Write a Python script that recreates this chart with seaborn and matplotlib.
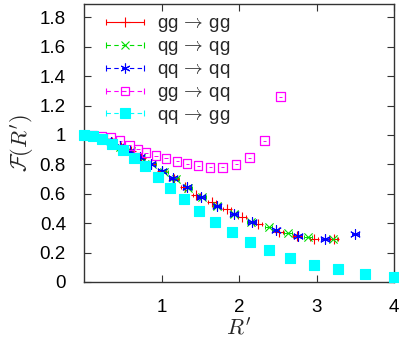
import numpy as np
import pandas as pd
import matplotlib
matplotlib.use("Agg")
import matplotlib.pyplot as plt
import seaborn as sns
from matplotlib.lines import Line2D
from matplotlib.collections import LineCollection
from matplotlib.container import ErrorbarContainer
from matplotlib.legend_handler import HandlerErrorbar
from matplotlib.ticker import FuncFormatter

# ---- data ----
labels = [r"gg$\,\rightarrow\,$gg", r"qg$\,\rightarrow\,$qg", r"qq$\,\rightarrow\,$qq",
          r"gg$\,\rightarrow\,$qq", r"qq$\,\rightarrow\,$gg"]

x_gg_gg = [0, 0.12, 0.24, 0.36, 0.48, 0.60, 0.73, 0.87, 1.01, 1.16, 1.30, 1.45,
           1.65, 1.84, 2.04, 2.24, 2.52, 2.75, 2.97, 3.22]
y_gg_gg = [1.0, 0.99, 0.975, 0.95, 0.92, 0.89, 0.845, 0.80, 0.755, 0.70, 0.648,
           0.592, 0.546, 0.495, 0.444, 0.393, 0.342, 0.316, 0.295, 0.289]

x_qg_qg = [0, 0.11, 0.23, 0.35, 0.47, 0.60, 0.74, 0.88, 1.03, 1.18, 1.34, 1.52,
           1.71, 1.93, 2.15, 2.38, 2.63, 2.89, 3.21]
y_qg_qg = [1.0, 0.99, 0.975, 0.95, 0.92, 0.89, 0.845, 0.80, 0.75, 0.70, 0.64,
           0.58, 0.52, 0.46, 0.41, 0.372, 0.333, 0.303, 0.29]

x_qq_qq = [0, 0.11, 0.23, 0.35, 0.46, 0.59, 0.72, 0.86, 1.0, 1.15, 1.33, 1.51,
           1.72, 1.93, 2.17, 2.47, 2.76, 3.11, 3.50]
y_qq_qq = [1.0, 0.99, 0.975, 0.95, 0.925, 0.893, 0.848, 0.803, 0.757, 0.705,
           0.646, 0.58, 0.519, 0.461, 0.41, 0.352, 0.311, 0.29, 0.327]

x_gg_qq = [0, 0.116, 0.232, 0.348, 0.465, 0.587, 0.697, 0.80, 0.929, 1.058,
           1.20, 1.329, 1.471, 1.626, 1.781, 1.961, 2.13, 2.323, 2.529]
y_gg_qq = [1.0, 1.0, 0.99, 0.98, 0.96, 0.93, 0.905, 0.88, 0.86, 0.84, 0.82,
           0.805, 0.79, 0.78, 0.78, 0.80, 0.845, 0.96, 1.26]

x_qq_gg = [0, 0.11, 0.23, 0.36, 0.50, 0.64, 0.79, 0.95, 1.11, 1.29, 1.48, 1.69,
           1.91, 2.14, 2.39, 2.66, 2.96, 3.27, 3.62, 4.0]
y_qq_gg = [1.0, 0.99, 0.97, 0.94, 0.895, 0.845, 0.786, 0.712, 0.637, 0.563,
           0.485, 0.41, 0.342, 0.274, 0.218, 0.165, 0.118, 0.086, 0.054, 0.036]

xerr_small = [0.05, 0.05, 0.05, 0.02, 0.02]

xs = [x_gg_gg, x_qg_qg, x_qq_qq, x_gg_qq, x_qq_gg]
ys = [y_gg_gg, y_qg_qg, y_qq_qq, y_gg_qq, y_qq_gg]

colors = ["#ff0000", "#00dd00", "#0000ff", "#ff00ff", "#00ffff"]
markers = ["+", "x", (6, 2, 0), "s", "s"]
msizes = [55, 35, 50, 40, 45]
filled = [True, True, True, False, True]
capsizes = [1.5, 1.5, 1.5, 0, 0]
lstyles = ["-", (0, (4, 3)), (0, (4, 3)), (0, (4, 3)), (0, (4, 3))]

# ---- style ----
sns.set_style("ticks")
plt.rcParams["font.family"] = ["Liberation Sans", "DejaVu Sans"]
plt.rcParams["mathtext.fontset"] = "cm"

fig = plt.figure(figsize=(3.99, 3.40), dpi=100)
ax = fig.add_axes([0.2105, 0.1706, 0.988 - 0.2105, 0.988 - 0.1706])

frames = []
for lab, x, y in zip(labels, xs, ys):
    frames.append(pd.DataFrame({"x": x, "y": y, "series": lab}))
df = pd.concat(frames, ignore_index=True)

handles = []
for i, lab in enumerate(labels):
    sub = df[df["series"] == lab]
    ax.errorbar(sub["x"], sub["y"], xerr=xerr_small[i], fmt="none",
                ecolor=colors[i], elinewidth=0.7, capsize=capsizes[i],
                capthick=0.7, zorder=2)
    if filled[i]:
        sns.scatterplot(data=sub, x="x", y="y", marker=markers[i], s=msizes[i],
                        color=colors[i],
                        edgecolor=colors[i] if markers[i] == "s" else None,
                        linewidth=0.8, ax=ax, legend=False, zorder=3 + i,
                        clip_on=False)
    else:
        sns.scatterplot(data=sub, x="x", y="y", marker=markers[i], s=msizes[i],
                        facecolor="none", edgecolor=colors[i], linewidth=0.9,
                        ax=ax, legend=False, zorder=3 + i, clip_on=False)
    # legend handle
    if filled[i]:
        pl = Line2D([], [], marker=markers[i], color=colors[i], ls="none",
                    ms=np.sqrt(msizes[i]), mec=colors[i], mfc=colors[i], mew=0.8)
    else:
        pl = Line2D([], [], marker=markers[i], color=colors[i], ls="none",
                    ms=np.sqrt(msizes[i]), mec=colors[i], mfc="none", mew=0.9)
    cap = Line2D([], [], marker="|", color=colors[i], ls="none", ms=5, mew=0.8)
    bar = LineCollection([], colors=colors[i], linestyles=[lstyles[i]],
                         linewidths=0.8)
    handles.append(ErrorbarContainer((pl, (cap,), (bar,)), has_xerr=True,
                                     has_yerr=False, label=lab))

ax.set_xlim(0, 4)
ax.set_ylim(0, 1.89)
ax.set_xticks([1, 2, 3, 4])
ax.set_yticks([0, 0.2, 0.4, 0.6, 0.8, 1.0, 1.2, 1.4, 1.6, 1.8])
ax.yaxis.set_major_formatter(FuncFormatter(lambda v, p: "%g" % round(v, 2)))
ax.tick_params(direction="in", length=5, width=0.8, labelsize=13.5,
               top=True, right=True, colors="#333333", labelcolor="black")
ax.tick_params(axis="y", pad=13)
ax.tick_params(axis="x", pad=12.5)
for sp in ax.spines.values():
    sp.set_linewidth(1.0)
    sp.set_color("#333333")

ax.set_xlabel(r"$R'$", fontsize=16, labelpad=1)
ax.set_ylabel(r"$\mathcal{F}(R')$", fontsize=16, labelpad=3)

ax.legend(handles=handles, loc="upper left", bbox_to_anchor=(0.03, 1.0),
          frameon=False, fontsize=13.5, labelspacing=0.2, handlelength=2.2,
          handletextpad=0.6, borderaxespad=0.2,
          handler_map={ErrorbarContainer: HandlerErrorbar(xerr_size=1.0)})

fig.savefig("out.png", dpi=100)
